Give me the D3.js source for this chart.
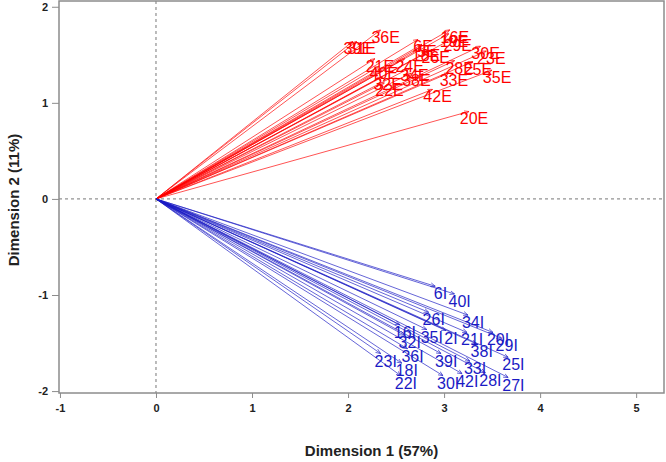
<!DOCTYPE html>
<html><head><meta charset="utf-8">
<script src="https://cdn.jsdelivr.net/npm/d3@7"></script>
<style>body{margin:0;background:#fff}svg{display:block;font-family:"Liberation Sans",Arial,sans-serif}</style>
</head><body><div id="chart"></div>
<script>
const xTicks = [-1,0,1,2,3,4,5];
const yTicks = [-2,-1,0,1,2];
const xLabel = "Dimension 1 (57%)";
const yLabel = "Dimension 2 (11%)";
const eLabels = ["36E","16E","19E","29E","39E","31E","6E","5E","18E","26E","30E","23E","21E","24E","28E","25E","40E","34E","32E","38E","33E","35E","22E","42E","20E"];
const eX = [2.34,3.06,3.05,3.09,2.05,2.09,2.73,2.77,2.76,2.86,3.38,3.44,2.28,2.59,3.11,3.30,2.32,2.64,2.36,2.66,3.05,3.50,2.38,2.88,3.26];
const eY = [1.76,1.76,1.72,1.67,1.64,1.64,1.66,1.61,1.57,1.55,1.59,1.54,1.46,1.46,1.44,1.43,1.38,1.36,1.27,1.31,1.31,1.34,1.21,1.14,0.91];
const iLabels = ["6I","40I","26I","34I","16I","35I","2I","21I","20I","32I","29I","38I","36I","39I","25I","23I","33I","18I","22I","30I","42I","28I","27I"];
const iX = [2.91,3.11,2.84,3.25,2.54,2.82,3.02,3.24,3.51,2.59,3.60,3.34,2.62,2.97,3.67,2.34,3.27,2.56,2.55,2.99,3.19,3.43,3.67];
const iY = [-0.91,-0.99,-1.18,-1.21,-1.31,-1.36,-1.37,-1.39,-1.39,-1.42,-1.45,-1.51,-1.56,-1.61,-1.65,-1.61,-1.69,-1.71,-1.84,-1.84,-1.82,-1.81,-1.86];

const W = 666, H = 462;
const L = 59, R = 664, T = 1, B = 393;
const x = d3.scaleLinear().domain([-1.01, 5.29]).range([L, R]);
const y = d3.scaleLinear().domain([-2.02, 2.06]).range([B, T]);

const svg = d3.select("#chart").append("svg").attr("width", W).attr("height", H);
const defs = svg.append("defs");
function marker(id, col){
  defs.append("marker").attr("id", id).attr("viewBox","0 0 10 10").attr("refX",10).attr("refY",5)
    .attr("markerWidth",5).attr("markerHeight",5).attr("markerUnits","userSpaceOnUse").attr("orient","auto")
    .append("path").attr("d","M0,1 L10,5 L0,9").attr("fill","none").attr("stroke",col).attr("stroke-width",1.2);
}
marker("mr","#f00"); marker("mb","#1a1ac4");

svg.append("line").attr("x1", x(0)).attr("x2", x(0)).attr("y1", T).attr("y2", B)
  .attr("stroke","#777").attr("stroke-dasharray","3,3").attr("stroke-width",1);
svg.append("line").attr("x1", L).attr("x2", R).attr("y1", y(0)).attr("y2", y(0))
  .attr("stroke","#777").attr("stroke-dasharray","3,3").attr("stroke-width",1);

const red = eLabels.map((l,i)=>({l, x:eX[i], y:eY[i]}));
const blue = iLabels.map((l,i)=>({l, x:iX[i], y:iY[i]}));

function draw(data, col, mk){
  const g = svg.append("g");
  g.selectAll("line").data(data).join("line")
    .attr("x1", x(0)).attr("y1", y(0)).attr("x2", d=>x(d.x)).attr("y2", d=>y(d.y))
    .attr("stroke", col).attr("stroke-width", 0.8).attr("stroke-opacity",0.85).attr("marker-end", `url(#${mk})`);
  g.selectAll("text").data(data).join("text")
    .attr("x", d=>x(d.x)+5).attr("y", d=>y(d.y)+13).attr("text-anchor","middle")
    .attr("font-size", 16).attr("fill", col).text(d=>d.l);
}
draw(red, "#f00", "mr");
draw(blue, "#1a1ac4", "mb");

svg.append("rect").attr("x", L).attr("y", T).attr("width", R-L).attr("height", B-T)
  .attr("fill","none").attr("stroke","#8c8c8c").attr("stroke-width",1.5);

const fmt = d => String(d);
const xa = svg.append("g").attr("transform", `translate(0,${B})`)
  .call(d3.axisBottom(x).tickValues(xTicks).tickSize(5).tickPadding(6).tickFormat(fmt));
const ya = svg.append("g").attr("transform", `translate(${L},0)`)
  .call(d3.axisLeft(y).tickValues(yTicks).tickSize(7).tickPadding(4).tickFormat(fmt));
[xa, ya].forEach(a=>{
  a.select(".domain").remove();
  a.selectAll("line").attr("stroke","#8c8c8c");
  a.selectAll("text").attr("font-size",11).attr("font-weight","bold").attr("fill","#222")
    .attr("font-family","'Liberation Sans',Arial,sans-serif");
});

svg.append("text").attr("x", (L+R)/2 + 10).attr("y", 456).attr("text-anchor","middle")
  .attr("font-size",15).attr("font-weight","bold").attr("fill","#222").text(xLabel);
svg.append("text").attr("transform", `translate(19,200) rotate(-90)`).attr("text-anchor","middle")
  .attr("font-size",15).attr("font-weight","bold").attr("fill","#222").text(yLabel);
</script></body></html>
